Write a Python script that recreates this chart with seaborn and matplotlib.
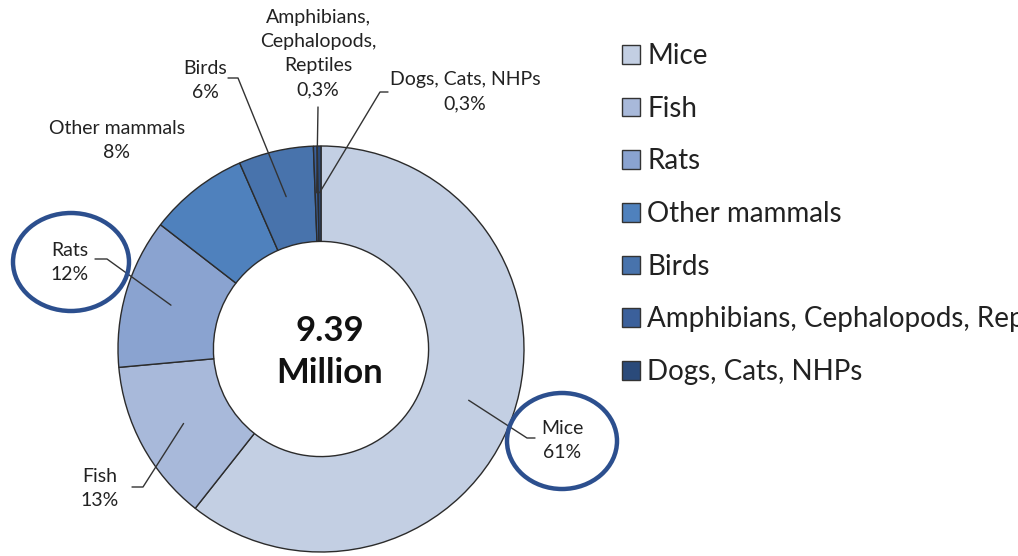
import numpy as np
import matplotlib
matplotlib.use("Agg")
import matplotlib.pyplot as plt
from matplotlib.patches import Ellipse
import seaborn as sns

# Share of animals used in research, by group (total 9.39 million)
categories = ["Mice", "Fish", "Rats", "Other mammals", "Birds",
              "Amphibians, Cephalopods, Reptiles", "Dogs, Cats, NHPs"]
shares = [61, 13, 12, 8, 6, 0.3, 0.3]
share_labels = ["61%", "13%", "12%", "8%", "6%", "0,3%", "0,3%"]
slice_labels = ["Mice", "Fish", "Rats", "Other mammals", "Birds",
                "Amphibians,\nCephalopods,\nReptiles", "Dogs, Cats, NHPs"]
total_text = "9.39\nMillion"

sns.set_theme(style="white")
plt.rcParams["font.family"] = ["Lato", "DejaVu Sans"]

colors = ["#c3cfe3", "#a8b9da", "#8aa3d0", "#4f81bd", "#4873ac", "#3b609b", "#2a4a7a"]

W, H = 1018, 556
fig = plt.figure(figsize=(W / 100, H / 100), dpi=100)
ax = fig.add_axes([0, 0, 1, 1])
ax.set_xlim(0, W)
ax.set_ylim(0, H)
ax.set_aspect("equal")
ax.axis("off")


def P(x, y):
    """Pixel position (origin top-left) to axes data coordinates."""
    return x, H - y


cx, cy = P(321, 349)
R = 203
ring = 0.47

wedges, _ = ax.pie(shares, colors=colors, startangle=90, counterclock=False,
                   center=(cx, cy), radius=R,
                   wedgeprops=dict(width=R * ring, edgecolor="#2b2b2b", linewidth=1.0))
ax.set_xlim(0, W)
ax.set_ylim(0, H)

ax.text(cx + 9, cy - 3, total_text, ha="center", va="center", fontsize=25,
        fontweight="bold", color="#111111", linespacing=1.4)

# Label placement: text centre, elbow point and the end of the short horizontal tick
label_layout = [
    dict(text=(562, 440), elbow=(527, 438), end=(535, 438)),
    dict(text=(100, 489), elbow=(143, 487), end=(132, 487)),
    dict(text=(70, 262), elbow=(107, 259), end=(95, 259)),
    dict(text=(117, 140), elbow=None, end=None),
    dict(text=(205, 80), elbow=(238, 78), end=(228, 78)),
    dict(text=(318, 54), elbow=(318, 107), end=(318, 107)),
    dict(text=(465, 92), elbow=(380, 92), end=(388, 92)),
]

for w, name, pct, lay in zip(wedges, slice_labels, share_labels, label_layout):
    ax.text(*P(*lay["text"]), f"{name}\n{pct}", ha="center", va="center",
            fontsize=14, color="#222222", linespacing=1.5)
    if lay["elbow"] is None:
        continue
    mid = np.deg2rad((w.theta1 + w.theta2) / 2)
    ax_x = cx + 0.77 * R * np.cos(mid)
    ax_y = cy + 0.77 * R * np.sin(mid)
    ex, ey = P(*lay["elbow"])
    tx, ty = P(*lay["end"])
    ax.plot([ax_x, ex, tx], [ax_y, ey, ty], color="#333333", lw=1.0, zorder=5)

# Highlight rings around the two largest rodent groups
for (x, y), (w_, h_) in [((71, 262), (116, 98)), ((562, 441), (110, 96))]:
    ax.add_patch(Ellipse(P(x, y), w_, h_, fill=False, edgecolor="#2c4f8e",
                         linewidth=3.2, zorder=6))

# Legend (runs off the right edge of the canvas)
handles = [plt.Rectangle((0, 0), 1, 1, facecolor=c, edgecolor="#333333", linewidth=1.0)
           for c in colors]
leg = fig.legend(handles, categories, loc="upper left",
                 bbox_to_anchor=(611 / W, 1 - 32 / H), frameon=False,
                 fontsize=20, handlelength=0.65, handleheight=0.65,
                 handletextpad=0.25, labelspacing=0.96, borderaxespad=0)
for t in leg.get_texts():
    t.set_color("#222222")

fig.savefig("out.png", dpi=100)
